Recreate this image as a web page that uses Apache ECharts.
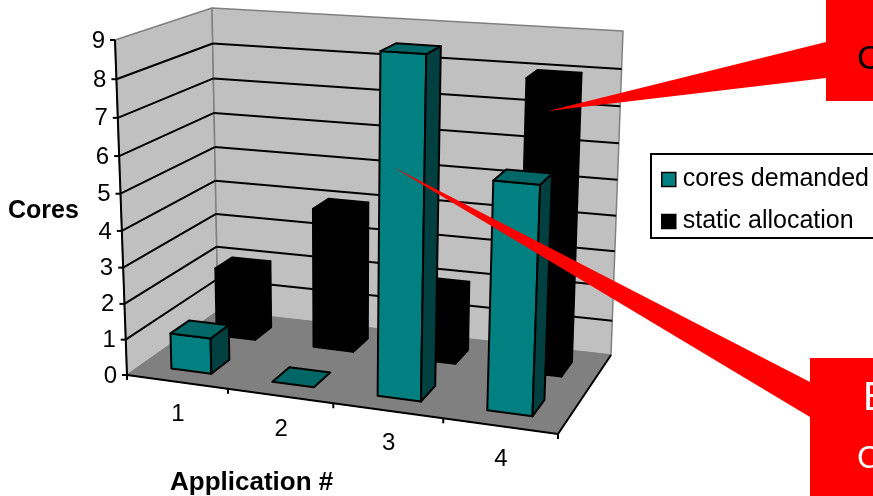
<!DOCTYPE html>
<html lang="en">
<head>
  <meta charset="UTF-8">
  <title>Cores by application</title>
  <script src="https://cdn.jsdelivr.net/npm/echarts@6/dist/echarts.min.js"></script>
</head>
<body style="margin: 0; background: #fff;">
<div id="main" style="width: 873px; height: 496px;"></div>
<script type="text/javascript">
  const categories = ['1', '2', '3', '4']
  const valueTicks = [0, 1, 2, 3, 4, 5, 6, 7, 8, 9]
  const coresDemanded = [1, 0, 9, 6]
  const staticAllocation = [2, 4, 2, 8]

  const FONT = '"Liberation Sans", Arial, sans-serif'
  const GRID = {left: 115, top: 40, width: 443, height: 335}

  // unit square -> quad (p0 front left, p1 front right, p2 back right, p3 back left)
  function quad(p0, p1, p2, p3) {
    const dx1 = p1[0] - p2[0], dx2 = p3[0] - p2[0], sx = p0[0] - p1[0] + p2[0] - p3[0]
    const dy1 = p1[1] - p2[1], dy2 = p3[1] - p2[1], sy = p0[1] - p1[1] + p2[1] - p3[1]
    const den = dx1 * dy2 - dx2 * dy1
    const g = (sx * dy2 - dx2 * sy) / den
    const h = (dx1 * sy - sx * dy1) / den
    const a = p1[0] - p0[0] + g * p1[0], b = p3[0] - p0[0] + h * p3[0]
    const d = p1[1] - p0[1] + g * p1[1], e = p3[1] - p0[1] + h * p3[1]
    return (u, v) => {
      const w = g * u + h * v + 1
      return [(a * u + b * v + p0[0]) / w, (d * u + e * v + p0[1]) / w]
    }
  }

  const floorPlane = quad([127, 375], [558, 434], [611, 355], [218, 311])
  const topPlane = quad([115, 40], [572, 71], [623, 31], [212, 8])

  // x, value in data units go through the grid's scales, depth is 0 (front) .. 1 (back)
  function project(api, x, value, depth) {
    const c = api.coord([x, value])
    let u = (c[0] - GRID.left) / GRID.width
    let t = (GRID.top + GRID.height - c[1]) / GRID.height
    // small corrections so the spacing follows the perspective of the original
    u = u + 0.05 * u * (1 - u)
    t = t / (1 + 0.06 * (1 - t))
    const a = floorPlane(u, depth)
    const b = topPlane(u, depth)
    return [a[0] + (b[0] - a[0]) * t, a[1] + (b[1] - a[1]) * t]
  }

  function poly(points, fill, stroke, width) {
    return {
      type: 'polygon',
      shape: {points},
      style: {fill, stroke: stroke || null, lineWidth: width || 0, lineJoin: 'round'}
    }
  }

  function line(a, b, stroke, width) {
    return {
      type: 'line',
      shape: {x1: a[0], y1: a[1], x2: b[0], y2: b[1]},
      style: {stroke, lineWidth: width}
    }
  }

  const maxV = valueTicks[valueTicks.length - 1]
  const maxX = categories.length

  function renderWalls(params, api) {
    const P = (x, v, d) => project(api, x, v, d)
    return {
      type: 'group',
      children: [
        poly([P(0, 0, 0), P(0, maxV, 0), P(0, maxV, 1), P(0, 0, 1)], '#c0c0c0', '#808080', 1.5),
        poly([P(0, 0, 1), P(0, maxV, 1), P(maxX, maxV, 1), P(maxX, 0, 1)], '#c0c0c0', '#808080', 1.5),
        poly([P(0, 0, 0), P(maxX, 0, 0), P(maxX, 0, 1), P(0, 0, 1)], '#808080', '#808080', 1)
      ]
    }
  }

  function renderGridline(params, api) {
    const v = api.value(0)
    const P = (x, d) => project(api, x, v, d)
    const children = []
    if (v > 0 && v < maxV) {
      children.push(line(P(0, 0), P(0, 1), '#000', 2))
      children.push(line(P(0, 1), P(maxX, 1), '#000', 2))
    }
    // tick stub on the value axis, label just left of it
    const foot = P(0, 0)
    children.push(line(foot, [foot[0] - 5, foot[1]], '#000', 2))
    children.push({
      type: 'text',
      style: {text: String(v), x: foot[0] - 10, y: foot[1] + 1, align: 'right', verticalAlign: 'middle',
        font: '24px ' + FONT, fill: '#000'}
    })
    return {type: 'group', children}
  }

  function renderAxes(params, api) {
    const P = (x, v, d) => project(api, x, v, d)
    const children = [
      line(P(0, 0, 0), P(0, maxV, 0), '#000', 2),
      line(P(0, 0, 0), P(maxX, 0, 0), '#000', 2),
      line(P(maxX, 0, 0), P(maxX, 0, 1), '#000', 2)
    ]
    for (let i = 0; i <= maxX; i++) {
      const a = P(i, 0, 0)
      children.push(line(a, [a[0], a[1] + 5], '#000', 2))
    }
    categories.forEach((name, i) => {
      const a = P(i + 0.5, 0, 0)
      children.push({
        type: 'text',
        style: {text: name, x: a[0] + 1, y: a[1] + 33, align: 'center', verticalAlign: 'middle',
          font: '24px ' + FONT, fill: '#000'}
      })
    })
    return {type: 'group', children}
  }

  function barRenderer(depth0, depth1, front, top, side, stroke) {
    return function (params, api) {
      const i = api.value(0)
      const v = api.value(1)
      const x0 = i + 0.3, x1 = i + 0.7
      const P = (x, val, d) => project(api, x, val, d)
      const children = []
      if (v > 0) {
        children.push(poly([P(x0, 0, depth0), P(x1, 0, depth0), P(x1, v, depth0), P(x0, v, depth0)], front, stroke, 2))
        children.push(poly([P(x1, 0, depth0), P(x1, 0, depth1), P(x1, v, depth1), P(x1, v, depth0)], side, stroke, 2))
      }
      children.push(poly([P(x0, v, depth0), P(x1, v, depth0), P(x1, v, depth1), P(x0, v, depth1)], top, stroke, 2))
      return {type: 'group', children}
    }
  }

  const myChart = echarts.init(document.getElementById('main'), null, {renderer: 'canvas'})

  const option = {
    animation: false,
    backgroundColor: '#fff',
    grid: GRID,
    xAxis: {type: 'value', min: 0, max: maxX, show: false},
    yAxis: {type: 'value', min: 0, max: maxV, show: false},
    legend: {
      left: 651,
      top: 154,
      orient: 'vertical',
      align: 'left',
      padding: [13, 40, 4, 10],
      borderColor: '#000',
      borderWidth: 2,
      itemWidth: 14,
      itemHeight: 14,
      itemGap: 17,
      textStyle: {fontFamily: FONT, fontSize: 25, color: '#000', padding: [0, 0, 0, 2]},
      data: [
        {name: 'cores demanded', icon: 'rect', itemStyle: {color: '#008080', borderColor: '#000', borderWidth: 1.5}},
        {name: 'static allocation', icon: 'rect', itemStyle: {color: '#000', borderColor: '#000', borderWidth: 1.5}}
      ]
    },
    series: [
      {type: 'custom', name: 'walls', clip: false, silent: true, data: [[0]], renderItem: renderWalls, z: 1},
      {type: 'custom', name: 'gridlines', clip: false, silent: true, data: valueTicks.map(v => [v]), renderItem: renderGridline, z: 2},
      {type: 'custom', name: 'axes', clip: false, silent: true, data: [[0]], renderItem: renderAxes, z: 3},
      {
        type: 'custom', name: 'static allocation', clip: false, z: 4,
        itemStyle: {color: '#000'},
        data: staticAllocation.map((v, i) => [i, v]),
        renderItem: barRenderer(0.65, 0.85, '#000', '#000', '#000', '#000')
      },
      {
        type: 'custom', name: 'cores demanded', clip: false, z: 5,
        itemStyle: {color: '#008080'},
        data: coresDemanded.map((v, i) => [i, v]),
        renderItem: barRenderer(0.15, 0.35, '#008080', '#006666', '#004040', '#000')
      }
    ],
    graphic: [
      // callout shapes sit on top of the chart and run off the slide edge
      {type: 'polygon', z: 100, shape: {points: [[548, 111], [826, 42], [826, 78]]}, style: {fill: '#f00'}},
      {type: 'rect', z: 100, shape: {x: 826, y: 0, width: 47, height: 101}, style: {fill: '#f00'}},
      {type: 'text', z: 101, style: {text: 'C', x: 857, y: 60, verticalAlign: 'middle', font: '34px ' + FONT, fill: '#000'}},
      {type: 'polygon', z: 100, shape: {points: [[393, 167], [810, 382], [810, 417]]}, style: {fill: '#f00'}},
      {type: 'rect', z: 100, shape: {x: 810, y: 358, width: 63, height: 138}, style: {fill: '#f00'}},
      {type: 'text', z: 101, style: {text: 'E', x: 863, y: 399, verticalAlign: 'middle', font: '40px ' + FONT, fill: '#fff'}},
      {type: 'text', z: 101, style: {text: 'C', x: 857, y: 459, verticalAlign: 'middle', font: '32px ' + FONT, fill: '#fff'}},
      // axis titles
      {type: 'text', z: 50, style: {text: 'Cores', x: 8, y: 211, verticalAlign: 'middle', font: 'bold 25px ' + FONT, fill: '#000'}},
      {type: 'text', z: 50, style: {text: 'Application #', x: 170, y: 483, verticalAlign: 'middle', font: 'bold 26px ' + FONT, fill: '#000'}}
    ]
  }

  myChart.setOption(option)
</script>
</body>
</html>
